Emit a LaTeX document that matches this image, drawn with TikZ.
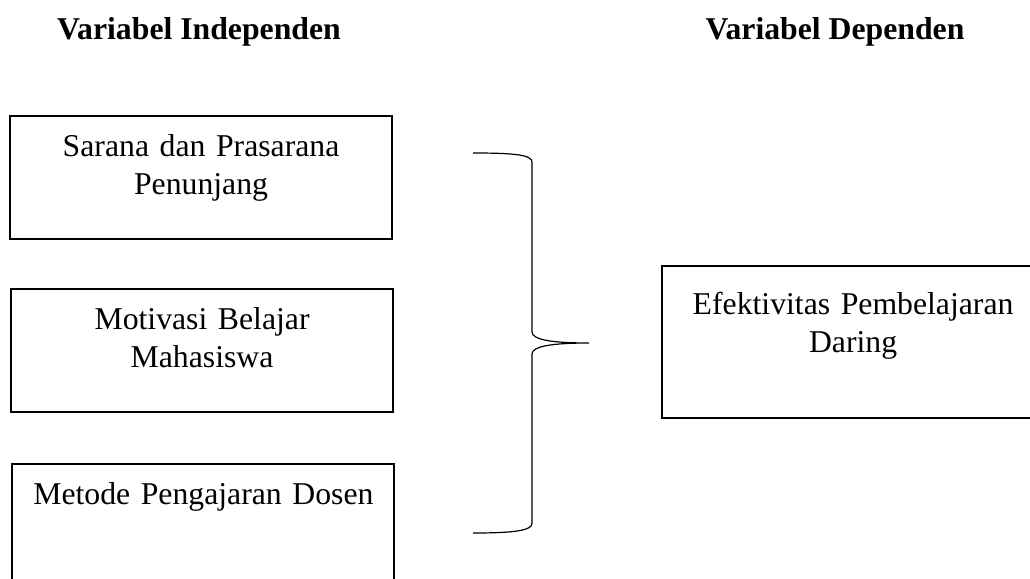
\documentclass[tikz,border=0pt]{standalone}
\usepackage{fontspec}
\setmainfont{Liberation Serif}
\usetikzlibrary{positioning, calc}

\tikzset{
    varbox/.style={draw, line width=1.6pt, inner sep=0pt, text width=286.5pt, align=center, text height=30pt, text depth=62.25pt},
    header/.style={font=\bfseries\fontsize{23.8}{28.5}\selectfont, anchor=base},
    bracepath/.style={line width=0.9pt}
}

\begin{document}
\begin{tikzpicture}[font=\fontsize{23.8}{28.5}\selectfont]
    \useasboundingbox (0,0) rectangle (772.5pt,-433.5pt);
    \node[header] (indep) at (149.25pt,-29.25pt) {Variabel Independen};
    \node[header] (dep) at (626.25pt,-29.25pt) {Variabel Dependen};

    \node[varbox, anchor=north west] (sarana) at (6.75pt,-86.25pt) {Sarana dan Prasarana\\Penunjang};
    \node[varbox, below=36pt of sarana, xshift=0.75pt] (motivasi) {Motivasi Belajar\\Mahasiswa};
    \node[varbox, below=37.5pt of motivasi, xshift=1pt, text depth=70pt] (metode) {Metode Pengajaran Dosen};
    \node[varbox, anchor=north west, text height=36pt, text depth=78pt] (efektif) at (495.75pt,-198.75pt) {Efektivitas Pembelajaran\\Daring};

    % kurung kurawal
    \coordinate (btop) at (354.75pt,-114.75pt);
    \coordinate (btip) at (441.75pt,-257.25pt);
    \coordinate (bbot) at (354.75pt,-399.75pt);
    \draw[bracepath] (btop) .. controls (385pt,-114.75pt) and (399pt,-116pt) .. (399pt,-121.5pt)
        -- (399pt,-249pt) .. controls (399pt,-255pt) and (415pt,-257.25pt) .. (btip)
        .. controls (415pt,-257.25pt) and (399pt,-259.5pt) .. (399pt,-265.5pt)
        -- (399pt,-392.5pt) .. controls (399pt,-398pt) and (385pt,-399.75pt) .. (bbot);
\end{tikzpicture}
\end{document}
